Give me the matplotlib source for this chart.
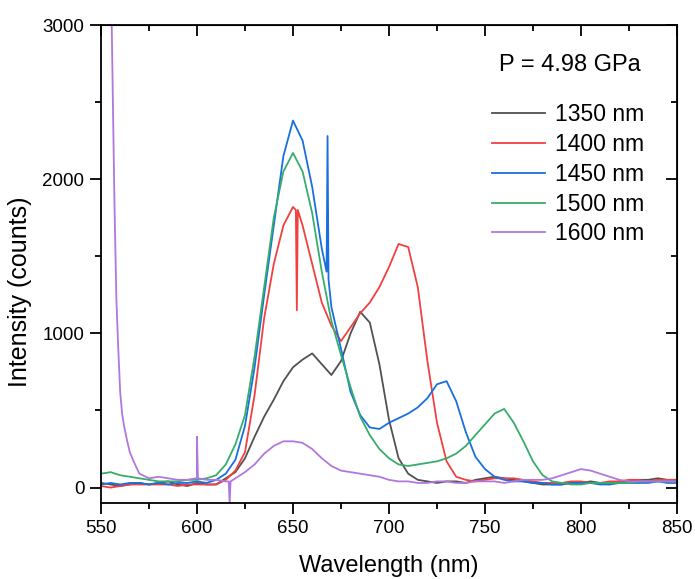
import matplotlib
matplotlib.use('Agg')
import matplotlib.pyplot as plt
from matplotlib.ticker import MultipleLocator

plt.rcParams['font.family'] = ['Liberation Sans', 'DejaVu Sans']

# Wellenlängen-Raster (nm), Werte
wl = list(range(550, 851, 5))

i_1350 = [30, 20, 10, 20, 30, 20, 30, 40, 20, 10, 30, 20, 20, 60, 100,
          190, 330, 460, 570, 690, 780, 830, 870, 800, 730, 820, 1000, 1140, 1070, 800,
          440, 190, 90, 50, 40, 30, 40, 40, 30, 50, 60, 70, 60, 50, 40,
          30, 20, 20, 20, 30, 30, 40, 30, 30, 40, 40, 50, 50, 60, 50, 50]
i_1400 = [10, 0, 10, 20, 20, 20, 20, 20, 10, 20, 20, 20, 20, 50, 110,
          230, 600, 1100, 1450, 1700, 1820, 1700, 1450, 1200, 1050, 950, 1040, 1130, 1200, 1300,
          1430, 1580, 1560, 1300, 820, 420, 170, 70, 50, 40, 50, 60, 60, 60, 50,
          40, 30, 30, 30, 40, 40, 30, 30, 40, 40, 50, 50, 40, 50, 50, 50]
i_1450 = [20, 30, 20, 30, 30, 20, 30, 20, 30, 30, 40, 30, 50, 90, 180,
          400, 780, 1250, 1700, 2150, 2380, 2250, 1950, 1550, 1170, 900, 620, 470, 390, 380,
          420, 450, 480, 520, 580, 670, 690, 560, 360, 200, 120, 70, 50, 40, 40,
          30, 30, 20, 20, 30, 30, 30, 20, 20, 30, 30, 30, 30, 40, 30, 30]
i_1500 = [90, 100, 80, 70, 60, 50, 40, 40, 40, 50, 50, 60, 80, 150, 280,
          470, 850, 1300, 1750, 2050, 2170, 2050, 1780, 1400, 1080, 860, 650, 460, 340, 250,
          190, 150, 140, 150, 160, 170, 190, 220, 270, 340, 410, 480, 510, 420, 300,
          170, 80, 40, 30, 20, 20, 30, 30, 30, 30, 30, 40, 40, 40, 40, 40]
i_1600 = [9000, 3500, 620, 230, 90, 60, 70, 60, 50, 50, 60, 50, 50, 40, 60,
          100, 150, 220, 270, 300, 300, 290, 250, 190, 140, 110, 100, 90, 80, 70,
          50, 40, 40, 30, 30, 40, 40, 30, 30, 40, 40, 40, 30, 40, 50,
          50, 50, 60, 80, 100, 120, 110, 90, 70, 50, 40, 40, 40, 40, 40, 40]

# einzelne Spitzen / steile Flanke zwischen den Rasterpunkten
spike_1400_wl = [651.5, 652.0, 652.5]
spike_1400 = [1800, 1150, 1800]
spike_1450_wl = [667.5, 668.0, 668.5]
spike_1450 = [1400, 2280, 1350]
edge_1600_wl = [555.6, 556.2, 557.0, 558.0, 559.0, 561.0, 562.0, 563.5, 567.0, 599.5, 600.0, 600.5, 616.5, 617.0, 617.5]
edge_1600 = [3000, 2500, 1860, 1230, 900, 480, 400, 310, 170, 60, 330, 60, 40, -100, 40]

labels = ['1350 nm', '1400 nm', '1450 nm', '1500 nm', '1600 nm']
colors = ['#515151', '#F14040', '#1A6FDF', '#37AD6B', '#B177DE']


def merge(x, y, ex, ey):
    pts = sorted(zip(list(x) + list(ex), list(y) + list(ey)))
    return [p[0] for p in pts], [p[1] for p in pts]


series = [
    (wl, i_1350),
    merge(wl, i_1400, spike_1400_wl, spike_1400),
    merge(wl, i_1450, spike_1450_wl, spike_1450),
    (wl, i_1500),
    merge(wl, i_1600, edge_1600_wl, edge_1600),
]

fig = plt.figure(figsize=(6.95, 5.79), dpi=100)
ax = fig.add_axes([0.1453, 0.1313, 0.8288, 0.8255])

for (x, y), lab, c in zip(series, labels, colors):
    ax.plot(x, y, color=c, lw=1.3, label=lab)

ax.set_xlim(550, 850)
ax.set_ylim(-100, 3000)
ax.xaxis.set_major_locator(MultipleLocator(50))
ax.xaxis.set_minor_locator(MultipleLocator(25))
ax.yaxis.set_major_locator(MultipleLocator(1000))
ax.yaxis.set_minor_locator(MultipleLocator(500))
ax.tick_params(which='major', direction='out', length=8, width=1.3, labelsize=13.5, pad=4)
ax.tick_params(which='minor', direction='out', length=4.5, width=1.3)
for s in ax.spines.values():
    s.set_linewidth(1.3)

# Ticks oben und rechts nach innen (Origin-Stil)
top = ax.secondary_xaxis('top')
top.xaxis.set_major_locator(MultipleLocator(50))
top.xaxis.set_minor_locator(MultipleLocator(25))
top.tick_params(which='major', direction='in', length=8, width=1.3, labeltop=False)
top.tick_params(which='minor', direction='in', length=4.5, width=1.3)
right = ax.secondary_yaxis('right')
right.yaxis.set_major_locator(MultipleLocator(1000))
right.yaxis.set_minor_locator(MultipleLocator(500))
right.tick_params(which='major', direction='in', length=8, width=1.3, labelright=False)
right.tick_params(which='minor', direction='in', length=4.5, width=1.3)

ax.set_xlabel('Wavelength (nm)', fontsize=17, labelpad=13)
ax.set_ylabel('Intensity (counts)', fontsize=18)
ax.yaxis.set_label_coords(-0.12, 0.441)

ax.text(0.814, 0.917, 'P = 4.98 GPa', transform=ax.transAxes, fontsize=17,
        ha='center', va='center')
ax.legend(loc='upper left', bbox_to_anchor=(0.679, 0.837), frameon=False,
          fontsize=16.5, handlelength=2.3, handletextpad=0.45, labelspacing=0.3,
          borderpad=0, borderaxespad=0)

fig.savefig('out.png', dpi=100)
